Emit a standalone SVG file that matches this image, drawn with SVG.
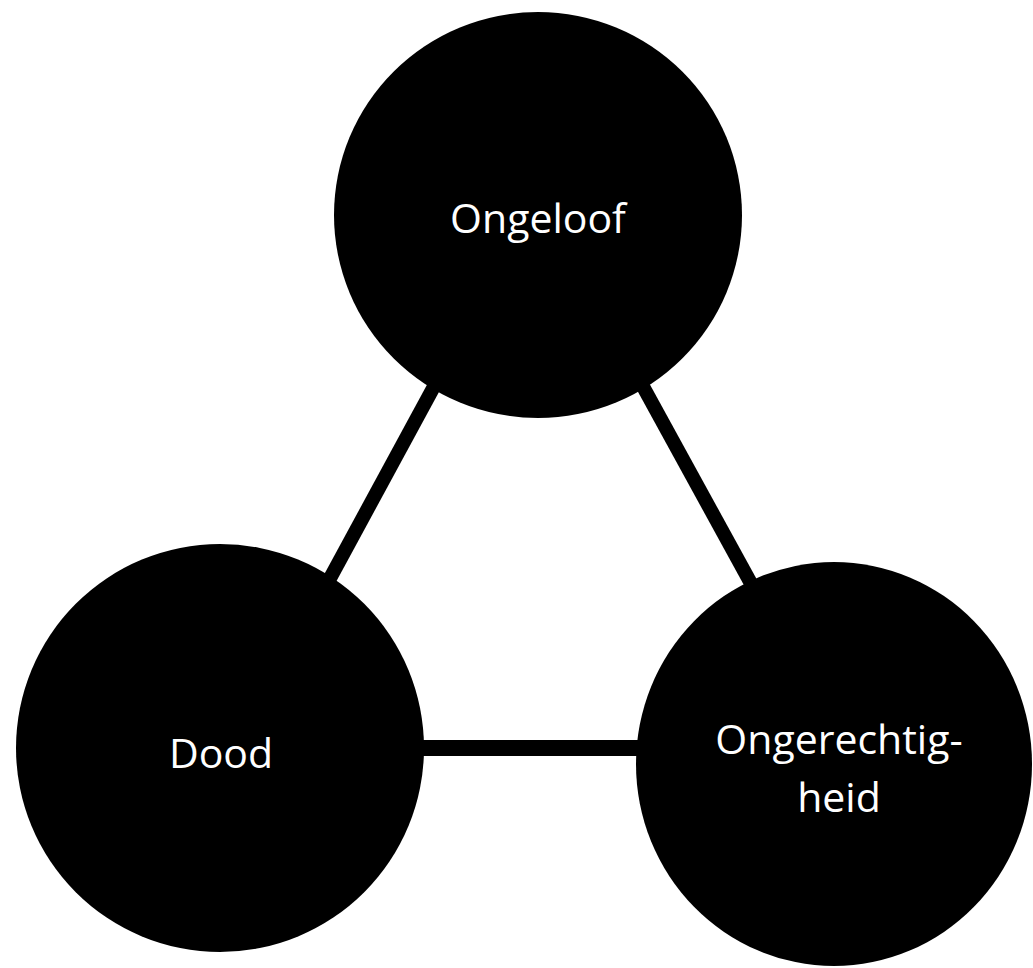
<svg xmlns="http://www.w3.org/2000/svg" width="1033" height="968" viewBox="0 0 1033 968">
  <style>
    .edge { stroke: #000; fill: none; stroke-linecap: butt; }
    .node { fill: #000; }
    .label { fill: #fff; font-family: "Open Sans", "Noto Sans", "Liberation Sans", sans-serif; font-size: 41px; text-anchor: middle; }
  </style>
  <rect width="1033" height="968" fill="#fff"/>
  <g id="connectors">
    <line class="edge" x1="238" y1="748" x2="527" y2="215" stroke-width="14"/>
    <line class="edge" x1="549" y1="215" x2="850" y2="764" stroke-width="14"/>
    <line class="edge" x1="220" y1="748" x2="834" y2="748" stroke-width="16"/>
  </g>
  <g id="node-ongeloof">
    <ellipse class="node" cx="538" cy="215" rx="204" ry="203"/>
    <text class="label" x="538" y="233">Ongeloof</text>
  </g>
  <g id="node-dood">
    <ellipse class="node" cx="220" cy="748" rx="204" ry="204"/>
    <text class="label" x="221" y="768">Dood</text>
  </g>
  <g id="node-ongerechtigheid">
    <ellipse class="node" cx="834" cy="764" rx="198" ry="202"/>
    <text class="label" x="839" y="754">Ongerechtig-</text>
    <text class="label" x="839" y="812">heid</text>
  </g>
</svg>
